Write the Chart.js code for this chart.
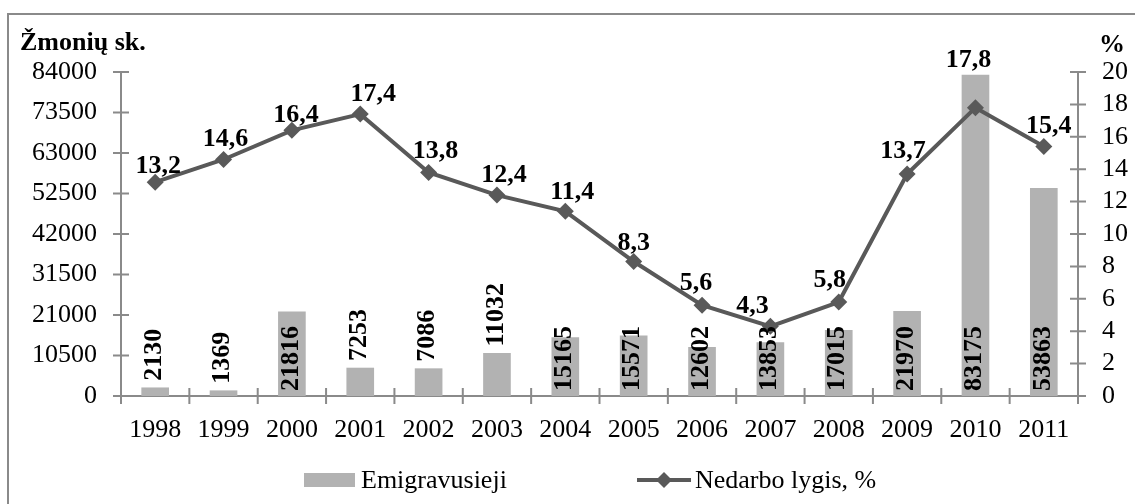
<!DOCTYPE html>
<html>
<head>
<meta charset="utf-8">
<script src="https://cdn.jsdelivr.net/npm/chart.js@4/dist/chart.umd.min.js"></script>
<style>
  html, body { margin: 0; padding: 0; background: #fff; }
  #wrap { width: 1135px; height: 504px; position: relative; }
</style>
</head>
<body>
<div id="wrap"><canvas id="c" width="1135" height="504"></canvas></div>
<script>
// ---- Data ----
const years = ['1998','1999','2000','2001','2002','2003','2004','2005','2006','2007','2008','2009','2010','2011'];
const emigrants = [2130, 1369, 21816, 7253, 7086, 11032, 15165, 15571, 12602, 13853, 17015, 21970, 83175, 53863];
const unemployment = [13.2, 14.6, 16.4, 17.4, 13.8, 12.4, 11.4, 8.3, 5.6, 4.3, 5.8, 13.7, 17.8, 15.4];
const leftTickMax = 84000, leftTickStep = 10500;
const rightTickMax = 20, rightTickStep = 2;
const seriesNames = ['Emigravusieji', 'Nedarbo lygis, %'];
const leftAxisTitle = 'Žmonių sk.';
const rightAxisTitle = '%';

// ---- Label placement (styling only) ----
const barLabelPlace = ['end','end','base','end','end','end','base','base','base','base','base','base','base','base'];
const lineLabelShift = [[3,-9],[2,-13],[4,-8],[13,-13],[7,-14],[7,-13],[7,-12],[0,-12],[-6,-15],[-18,-13],[-9,-15],[-4,-16],[-7,-41],[5,-14]];

const FONT = '"Liberation Serif", "Times New Roman", serif';
const BAR_COLOR = '#b2b2b2';
const LINE_COLOR = '#595959';
const AXIS_COLOR = '#8a8a8a';

const decorPlugin = {
  id: 'decor',
  beforeDatasetsDraw(chart) {
    const ctx = chart.ctx;
    const x = chart.scales.x, y = chart.scales.y, y1 = chart.scales.y1;
    ctx.save();
    ctx.strokeStyle = AXIS_COLOR;
    ctx.lineWidth = 2;
    ctx.strokeRect(8, 14, 1300, 700);
    const top = y.getPixelForValue(leftTickMax);
    const bottom = y.getPixelForValue(0);
    ctx.beginPath();
    ctx.moveTo(x.left, top); ctx.lineTo(x.left, bottom);
    ctx.moveTo(x.right, top); ctx.lineTo(x.right, bottom);
    ctx.moveTo(x.left, bottom); ctx.lineTo(x.right, bottom);
    y.ticks.forEach(t => {
      const py = y.getPixelForValue(t.value);
      ctx.moveTo(x.left - 8, py); ctx.lineTo(x.left + 8, py);
    });
    y1.ticks.forEach(t => {
      const py = y1.getPixelForValue(t.value);
      ctx.moveTo(x.right - 8, py); ctx.lineTo(x.right + 8, py);
    });
    for (let i = 0; i <= years.length; i++) {
      const px = x.getPixelForValue(i - 0.5);
      ctx.moveTo(px, bottom - 8); ctx.lineTo(px, bottom + 8);
    }
    ctx.stroke();
    ctx.restore();
  },
  afterDatasetsDraw(chart) {
    const ctx = chart.ctx;
    const y = chart.scales.y;
    const bottom = y.getPixelForValue(0);
    ctx.save();
    ctx.fillStyle = '#000';
    ctx.font = 'bold 26px ' + FONT;
    const barMeta = chart.getDatasetMeta(0);
    barMeta.data.forEach((bar, i) => {
      const startY = barLabelPlace[i] === 'base' ? bottom - 5 : bar.y - 7;
      ctx.save();
      ctx.translate(bar.x - 1, startY);
      ctx.rotate(-Math.PI / 2);
      ctx.textAlign = 'left';
      ctx.textBaseline = 'middle';
      ctx.fillText(String(emigrants[i]), 0, 0);
      ctx.restore();
    });
    ctx.font = 'bold 26px ' + FONT;
    ctx.textAlign = 'center';
    ctx.textBaseline = 'alphabetic';
    const lineMeta = chart.getDatasetMeta(1);
    lineMeta.data.forEach((pt, i) => {
      const s = lineLabelShift[i];
      ctx.fillText(unemployment[i].toFixed(1).replace('.', ','), pt.x + s[0], pt.y + s[1]);
    });
    ctx.font = 'bold 26px ' + FONT;
    ctx.textAlign = 'left';
    ctx.fillText(leftAxisTitle, 20, 50);
    ctx.fillText(rightAxisTitle, 1099, 52);
    ctx.fillStyle = BAR_COLOR;
    ctx.fillRect(304, 473, 51, 14);
    ctx.fillStyle = '#000';
    ctx.font = '26px ' + FONT;
    ctx.textBaseline = 'middle';
    ctx.fillText(seriesNames[0], 361, 481);
    ctx.strokeStyle = LINE_COLOR;
    ctx.lineWidth = 4;
    ctx.beginPath();
    ctx.moveTo(637, 480); ctx.lineTo(691, 480);
    ctx.stroke();
    ctx.fillStyle = LINE_COLOR;
    ctx.beginPath();
    ctx.moveTo(664, 472); ctx.lineTo(672, 480); ctx.lineTo(664, 488); ctx.lineTo(656, 480);
    ctx.closePath(); ctx.fill();
    ctx.fillStyle = '#000';
    ctx.fillText(seriesNames[1], 695, 481);
    ctx.restore();
  }
};

new Chart(document.getElementById('c'), {
  data: {
    labels: years,
    datasets: [
      {
        type: 'bar',
        label: seriesNames[0],
        data: emigrants,
        backgroundColor: BAR_COLOR,
        borderWidth: 0,
        barThickness: 27,
        yAxisID: 'y',
        order: 1
      },
      {
        type: 'line',
        label: seriesNames[1],
        data: unemployment,
        borderColor: LINE_COLOR,
        backgroundColor: LINE_COLOR,
        borderWidth: 4,
        pointStyle: 'rectRot',
        pointRadius: 8.5,
        pointBackgroundColor: LINE_COLOR,
        pointBorderWidth: 0,
        tension: 0,
        yAxisID: 'y1',
        order: 0
      }
    ]
  },
  options: {
    responsive: false,
    animation: false,
    devicePixelRatio: 1,
    layout: { padding: { top: 72, left: 0, right: 0, bottom: 0 } },
    plugins: { legend: { display: false }, tooltip: { enabled: false } },
    scales: {
      x: {
        grid: { display: false, drawTicks: false },
        border: { display: false },
        ticks: { color: '#000', font: { family: FONT, size: 26 }, padding: 19, maxRotation: 0, autoSkip: false },
        afterFit(s) { s.height = 108; }
      },
      y: {
        position: 'left',
        min: 0, max: leftTickMax,
        grid: { display: false, drawTicks: false },
        border: { display: false },
        ticks: { stepSize: leftTickStep, autoSkip: false, color: '#000', font: { family: FONT, size: 26 }, padding: 24, callback: v => String(v) },
        afterFit(s) { s.width = 121; }
      },
      y1: {
        position: 'right',
        min: 0, max: rightTickMax,
        grid: { display: false, drawTicks: false },
        border: { display: false },
        ticks: { stepSize: rightTickStep, autoSkip: false, color: '#000', font: { family: FONT, size: 26 }, padding: 24, callback: v => String(v) },
        afterFit(s) { s.width = 57; }
      }
    }
  },
  plugins: [decorPlugin]
});
</script>
</body>
</html>
